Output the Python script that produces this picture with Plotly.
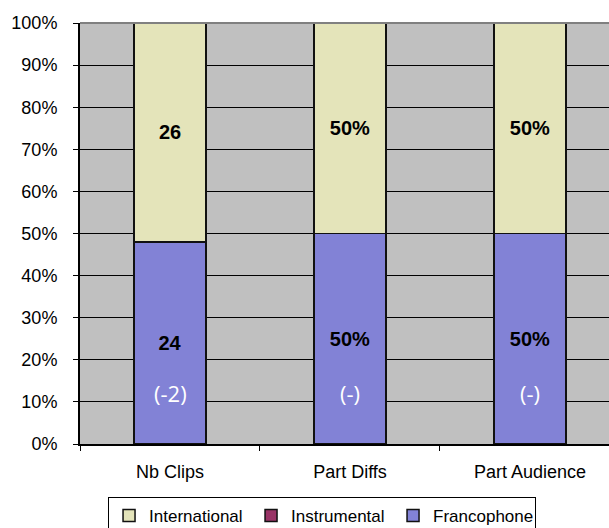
import plotly.graph_objects as go

FONT = "'Liberation Sans', Arial, sans-serif"
BG = '#c0c0c0'

categories = ['Nb Clips', 'Part Diffs', 'Part Audience']
francophone = [24, 50, 50]
instrumental = [0, 0, 0]
international = [26, 50, 50]
franco_labels = ['24', '50%', '50%']
inter_labels = ['26', '50%', '50%']
deltas = ['(-2)', '(-)', '(-)']
y_ticks = [i / 10 for i in range(11)]

fig = go.Figure()

series = [
    ('Francophone', francophone, franco_labels, '#8282d6'),
    ('Instrumental', instrumental, None, '#993366'),
    ('International', international, inter_labels, '#e4e4ba'),
]
for name, vals, labels, color in series:
    fig.add_trace(go.Bar(
        x=categories,
        y=vals,
        name=name,
        text=labels,
        textposition='inside' if labels else 'none',
        insidetextanchor='middle',
        textangle=0,
        textfont=dict(family=FONT, size=20, color='black', weight='bold'),
        marker=dict(color=color, line=dict(color='#111111', width=1.5)),
        width=0.4,
    ))

for cat, d in zip(categories, deltas):
    fig.add_annotation(
        x=cat, y=0.12, text=d, showarrow=False,
        font=dict(family="'Open Sans', sans-serif", size=22, color='white'),
    )

# grey top border of the plot area
fig.add_shape(type='line', xref='paper', yref='paper', x0=0, x1=1, y0=1, y1=1,
              line=dict(color='#808080', width=2))

fig.update_layout(
    width=609,
    height=528,
    barmode='stack',
    barnorm='fraction',
    paper_bgcolor='white',
    plot_bgcolor=BG,
    margin=dict(l=80, r=0, t=23, b=84, autoexpand=False),
    font=dict(family=FONT, size=18, color='black'),
    showlegend=True,
    legend=dict(
        orientation='h',
        traceorder='reversed',
        x=0.053, xanchor='left',
        y=-0.126, yanchor='top',
        bordercolor='black', borderwidth=1,
        font=dict(family=FONT, size=17, color='black'),
        entrywidth=97,
        entrywidthmode='pixels',
    ),
)
fig.update_xaxes(
    range=[-0.5, 2.439],
    tickson='boundaries',
    ticks='outside', ticklen=5, tickcolor='black',
    showgrid=False,
    showline=True, linecolor='black', linewidth=2,
    ticklabelstandoff=10,
    tickfont=dict(size=18),
    automargin=False,
)
fig.update_yaxes(
    range=[0, 1],
    tickvals=y_ticks,
    tickformat='.0%',
    ticks='outside', ticklen=5, tickcolor='black',
    showgrid=True, gridcolor='black', gridwidth=1,
    zeroline=False,
    showline=True, linecolor='black', linewidth=2,
    ticklabelstandoff=12,
    tickfont=dict(size=18),
    automargin=False,
)

# drop the default page margin so the 609x528 figure fills the window
fig.write_html(
    'out.html',
    config={'displayModeBar': False},
    post_script="document.body.style.margin='0';",
)
